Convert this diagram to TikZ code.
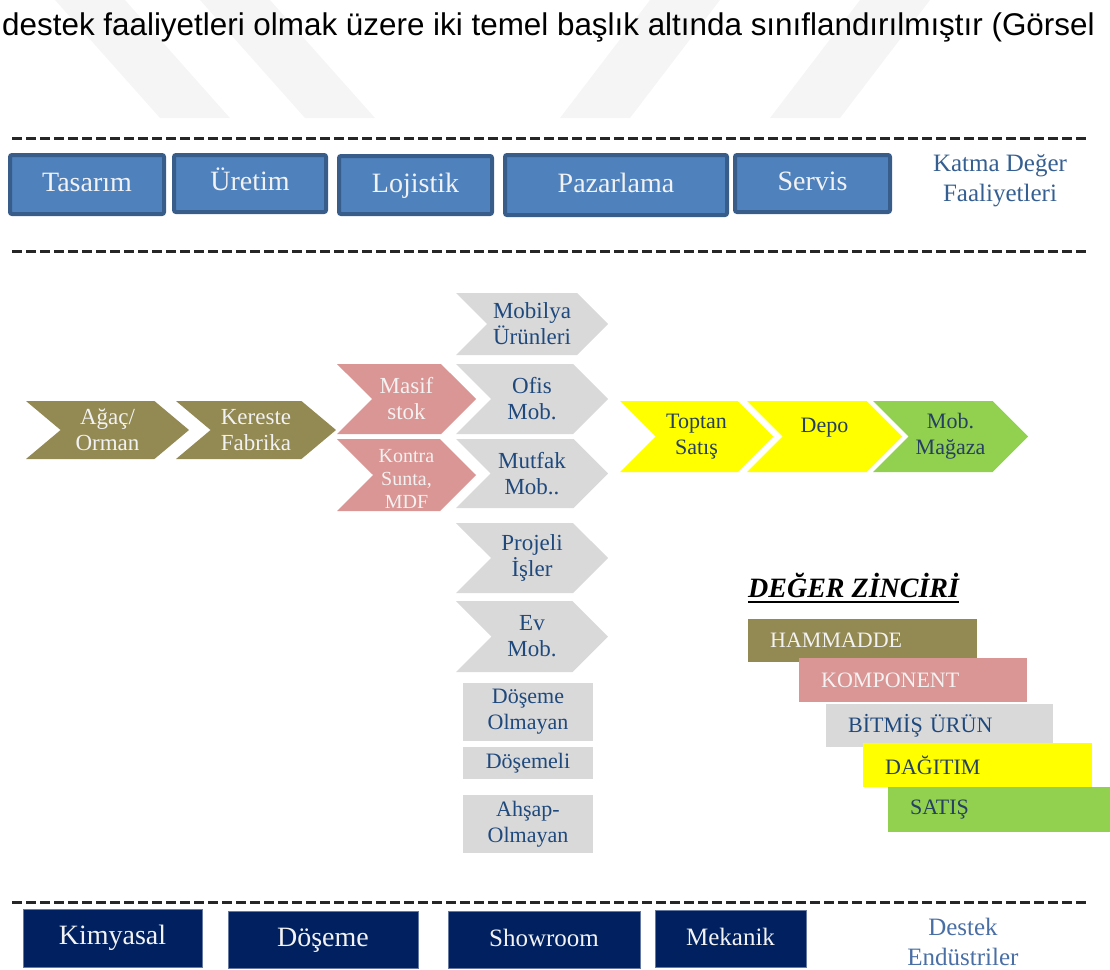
\documentclass[tikz,border=0pt]{standalone}
\usepackage{fontspec}
\setmainfont{Liberation Serif}
\newfontfamily\arialfont{Liberation Sans}
\usetikzlibrary{shapes.symbols}

\definecolor{boxblue}{HTML}{4F81BD}
\definecolor{boxedge}{HTML}{385D8A}
\definecolor{suppnavy}{HTML}{002060}
\definecolor{hamcol}{HTML}{938953}
\definecolor{kompcol}{HTML}{D99694}
\definecolor{bitcol}{HTML}{D9D9D9}
\definecolor{dagcol}{HTML}{FFFF00}
\definecolor{satcol}{HTML}{92D050}
\definecolor{darktext}{HTML}{1F497D}
\definecolor{chaintext}{HTML}{254061}
\definecolor{labcol}{HTML}{365F91}
\definecolor{destcol}{HTML}{4A6FA5}

\begin{document}
\begin{tikzpicture}[x=1pt,y=-1pt,
  actbox/.style={rectangle,draw=boxedge,line width=4pt,fill=boxblue,rounded corners=2pt,text=white!95!black,font=\fontsize{28}{30}\selectfont,inner sep=0pt,text height=20pt,text depth=6pt},
  supbox/.style={rectangle,fill=suppnavy,draw=suppnavy!60!white,line width=0.8pt,text=white!95!black,inner sep=0pt,text height=19pt,text depth=6pt},
  chev/.style={signal,signal to=east,signal from=west,signal pointer angle=90,inner sep=0pt,align=center,minimum width=153pt,minimum height=70pt,font=\fontsize{23}{26}\selectfont},
  rawchev/.style={chev,fill=hamcol,text=white!95!black,minimum height=58pt,signal pointer angle=80},
  compchev/.style={chev,fill=kompcol,text=white!95!black,minimum width=139pt},
  prodchev/.style={chev,fill=bitcol,text=darktext,minimum width=152pt},
  distchev/.style={chev,fill=dagcol,text=chaintext,font=\fontsize{22}{26}\selectfont},
  salechev/.style={chev,fill=satcol,text=chaintext,font=\fontsize{22}{26}\selectfont},
  prodrect/.style={rectangle,fill=bitcol,text=darktext,minimum width=130pt,inner sep=0pt,align=center,font=\fontsize{22}{26}\selectfont},
  legbar/.style={rectangle,anchor=north west,inner xsep=22pt,inner ysep=0pt,align=left,font=\fontsize{22}{24}\selectfont},
  sidelabel/.style={align=center,font=\fontsize{25}{30}\selectfont},
  sepline/.style={dash pattern=on 10pt off 4pt,line width=3pt,black!85}
  ]

\useasboundingbox (0,0) rectangle (1110,969);

% faint watermark in the page background
\fill[black!4] (55,0) -- (125,0) -- (230,118) -- (160,118) -- cycle;
\fill[black!4] (200,0) -- (270,0) -- (375,118) -- (305,118) -- cycle;
\fill[black!4] (560,118) -- (630,118) -- (720,0) -- (650,0) -- cycle;
\fill[black!4] (770,118) -- (840,118) -- (930,0) -- (860,0) -- cycle;

\node[anchor=base west,inner sep=0pt,font=\arialfont\fontsize{31.4}{34}\selectfont] (intro) at (2,35) {destek faaliyetleri olmak üzere iki temel başlık altında sınıflandırılmıştır (Görsel};

% katma deger faaliyetleri
\draw[sepline] (12,138) -- (1088,138);
\node[actbox,minimum width=154pt,minimum height=59pt] (tasarim) at (87,184.5) {Tasarım};
\node[actbox,minimum width=152pt,minimum height=57pt] (uretim) at (250,183.5) {Üretim};
\node[actbox,minimum width=153pt,minimum height=58pt] (lojistik) at (415.5,185) {Lojistik};
\node[actbox,minimum width=222pt,minimum height=60pt] (pazarlama) at (616,185) {Pazarlama};
\node[actbox,minimum width=155pt,minimum height=57pt] (servis) at (812.5,183.5) {Servis};
\node[sidelabel,text=labcol] (katma) at (1000,181) {Katma Değer\\Faaliyetleri};
\draw[sepline] (12,251) -- (1088,251);

% hammadde ve komponent
\node[rawchev,minimum width=163pt] (agac) at (107.5,430) {Ağaç/\\Orman};
\node[rawchev,minimum width=160pt] (kereste) at (256,430) {Kereste\\Fabrika};
\node[compchev] (masif) at (406.5,399) {Masif\\stok};
\node[compchev,minimum height=72pt,font=\fontsize{20}{23}\selectfont] (kontra) at (406.5,475) {\rule{0pt}{22pt}Kontra\\Sunta,\\MDF};

% bitmis urunler
\node[prodchev,minimum height=62pt] (mobilya) at (532,324) {Mobilya\\Ürünleri};
\node[prodchev] (ofis) at (532,399) {Ofis\\Mob.};
\node[prodchev,minimum height=69pt] (mutfak) at (532,473.5) {Mutfak\\Mob..};
\node[prodchev] (projeli) at (532,558) {Projeli\\İşler};
\node[prodchev,minimum height=71pt] (evmob) at (532,636.5) {Ev\\Mob.};
\node[prodrect,minimum height=58pt] (dosemeolm) at (528,712) {Döşeme\\Olmayan};
\node[prodrect,minimum height=32pt] (dosemeli) at (528,763) {Döşemeli};
\node[prodrect,minimum height=58pt] (ahsap) at (528,824) {Ahşap-\\Olmayan};

% dagitim ve satis
\node[distchev,minimum height=71pt] (toptan) at (696.5,436.5) {Toptan\\Satış};
\node[distchev,minimum width=155pt,minimum height=71pt] (depo) at (824.5,436.5) {\raisebox{4pt}[0pt][0pt]{Depo}};
\node[salechev,minimum width=155pt,minimum height=71pt] (magaza) at (950.5,436.5) {Mob.\\Mağaza};

% deger zinciri
\node[anchor=base west,inner sep=0pt,font=\bfseries\itshape\fontsize{28}{30}\selectfont] (zincir) at (748,597) {DEĞER ZİNCİRİ};
\draw[line width=2pt] ([yshift=-5pt]zincir.base west) -- ([yshift=-5pt]zincir.base east);
\node[legbar,fill=hamcol,text=white!95!black,minimum height=43pt,text width=185pt] (hammadde) at (748,619) {HAMMADDE};
\node[legbar,fill=kompcol,text=white!95!black,minimum height=44pt,text width=184pt] (komponent) at (799,658) {KOMPONENT};
\node[legbar,fill=bitcol,text=darktext,minimum height=43pt,text width=183pt] (bitmis) at (826,704) {BİTMİŞ ÜRÜN};
\node[legbar,fill=dagcol,text=chaintext,minimum height=44pt,text width=185pt] (dagitim) at (863,743) {DAĞITIM};
\node[legbar,fill=satcol,text=chaintext,minimum height=45pt,text width=208pt] (satis) at (888,787) {SATIŞ};

% destek endustriler
\draw[sepline] (12,902) -- (1088,902);
\node[supbox,minimum width=179pt,minimum height=58pt,font=\fontsize{28}{30}\selectfont] (kimyasal) at (112.5,938) {Kimyasal};
\node[supbox,minimum width=190pt,minimum height=57pt,font=\fontsize{28}{30}\selectfont] (doseme) at (323,939.5) {Döşeme};
\node[supbox,minimum width=192pt,minimum height=57pt,font=\fontsize{25}{30}\selectfont] (showroom) at (544,939.5) {Showroom};
\node[supbox,minimum width=151pt,minimum height=57pt,font=\fontsize{25}{30}\selectfont] (mekanik) at (730.5,938.5) {Mekanik};
\node[sidelabel,text=destcol] (destek) at (963,942) {Destek\\Endüstriler};

\end{tikzpicture}
\end{document}
